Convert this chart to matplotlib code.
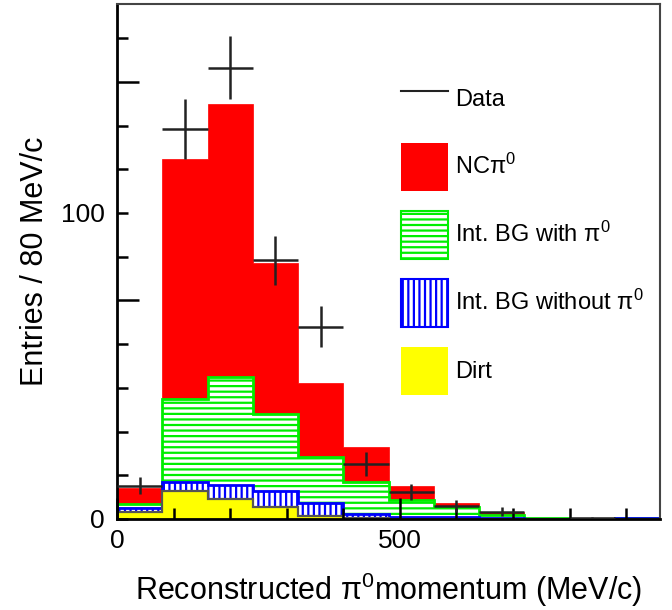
import numpy as np
import matplotlib
matplotlib.use("Agg")
import matplotlib.pyplot as plt
from matplotlib.patches import Patch
from matplotlib.lines import Line2D

plt.rcParams['font.family'] = ['Liberation Sans', 'DejaVu Sans']
plt.rcParams['mathtext.fontset'] = 'custom'
plt.rcParams['mathtext.rm'] = 'Liberation Sans'
plt.rcParams['mathtext.it'] = 'Liberation Sans'
plt.rcParams['hatch.linewidth'] = 1.6

# ---- data ----
bin_edges = [0, 80, 160, 240, 320, 400, 480, 560, 640, 720, 800, 880, 960]
dirt      = [2.4, 9.3, 6.5, 3.8, 1.1, 0.3, 0.1, 0.0, 0.0, 0.0, 0.0, 0.0]
bg_nopi0  = [1.2, 2.7, 4.6, 5.5, 4.0, 1.4, 0.7, 0.5, 0.2, 0.1, 0.1, 0.2]
bg_pi0    = [1.2, 27.2, 35.4, 24.9, 15.2, 10.5, 5.4, 3.4, 1.1, 0.1, 0.0, 0.0]
ncpi0     = [5.2, 78.3, 89.1, 49.3, 24.0, 11.4, 4.6, 1.4, 1.1, 0.1, 0.1, 0.0]
data_x    = [40, 120, 200, 280, 360, 440, 520, 600, 680, 840]
data_y    = [10.9, 127.5, 147.5, 84.6, 62.8, 18.0, 8.8, 4.2, 2.4, 0.3]
data_err  = [2.8, 9.8, 10.3, 8.0, 6.7, 3.8, 2.7, 2.0, 1.5, 0.4]
data_xerr = 40

fig = plt.figure(figsize=(6.72, 6.10), dpi=100)
ax = fig.add_axes([117/672, 1-519/610, 543/672, 515/610])

edges = np.array(bin_edges, dtype=float)
c1 = np.array(dirt)
c2 = c1 + np.array(bg_nopi0)
c3 = c2 + np.array(bg_pi0)
c4 = c3 + np.array(ncpi0)

ax.stairs(c4, edges, fill=True, baseline=0, facecolor='#ff0000', edgecolor='#ff0000', linewidth=0.5)
ax.stairs(c3, edges, fill=True, baseline=0, facecolor='white', edgecolor='#00ee00', hatch='---', linewidth=2)
ax.stairs(c2, edges, fill=True, baseline=0, facecolor='white', edgecolor='#0000ff', hatch='|||', linewidth=2)
ax.stairs(c1, edges, fill=True, baseline=0, facecolor='#ffff00', edgecolor='#555555', linewidth=1.6)

ax.errorbar(data_x, data_y, yerr=data_err, xerr=data_xerr, fmt='none',
            ecolor='#222222', elinewidth=1.8, capsize=0, zorder=5)

ax.set_xlim(0, 960)
ax.set_ylim(0, 168.3)

# x ticks
ax.set_xticks([0, 500])
ax.set_xticklabels(['0', '500'])
ax.set_xticks(np.arange(100, 960, 100), minor=True)
ax.tick_params(axis='x', which='major', direction='in', length=15, width=1.8, labelsize=19, pad=7)
ax.tick_params(axis='x', which='minor', direction='in', length=8, width=1.8)

# y ticks
step = 100 / 7
ax.set_yticks([0, 5*step, 100, 10*step])
ax.set_yticklabels(['0', '', '100', ''])
ax.set_yticks([k*step for k in range(1, 12) if k not in (5, 7, 10)], minor=True)
ax.tick_params(axis='y', which='major', direction='in', length=16, width=1.8, labelsize=19, pad=9)
ax.tick_params(axis='y', which='minor', direction='in', length=8, width=1.8)
for t, L in zip(ax.yaxis.get_major_ticks(), [8, 16, 8, 16]):
    t.tick1line.set_markersize(L)

for s in ['left', 'bottom']:
    ax.spines[s].set_linewidth(2)
for s in ['top', 'right']:
    ax.spines[s].set_linewidth(1.5)
    ax.spines[s].set_color('#444444')

ax.set_xlabel(r'Reconstructed π$^0$momentum (MeV/c)', fontsize=22, labelpad=13)
ax.set_ylabel('Entries / 80 MeV/c', fontsize=22, labelpad=8)

handles = [
    Line2D([], [], color='#222222', lw=1.5),
    Patch(facecolor='#ff0000', edgecolor='none'),
    Patch(facecolor='white', edgecolor='#00ee00', hatch='---', lw=1.5),
    Patch(facecolor='white', edgecolor='#0000ff', hatch='|||', lw=1.5),
    Patch(facecolor='#ffff00', edgecolor='none'),
]
labels = ['Data', r'NCπ$^0$', r'Int. BG with π$^0$', r'Int. BG without π$^0$', 'Dirt']
ax.legend(handles, labels, loc='upper left', bbox_to_anchor=(0.523, 0.862),
          frameon=False, fontsize=17, handlelength=2.0, handleheight=2.75,
          labelspacing=0.85, handletextpad=0.3, borderpad=0, borderaxespad=0)

fig.savefig('out.png', dpi=100)
